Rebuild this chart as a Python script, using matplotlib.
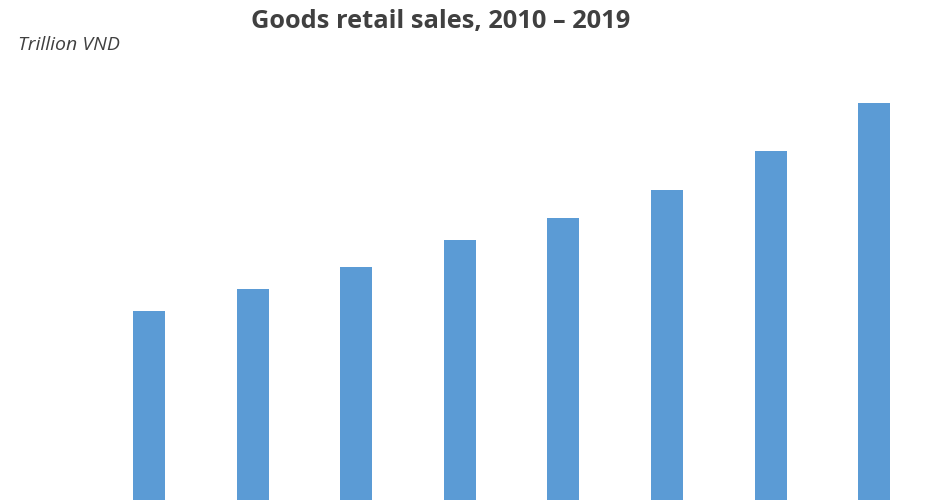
import matplotlib.pyplot as plt

# retail sales of goods, trillion VND
years = ["2012", "2013", "2014", "2015", "2016", "2017", "2018", "2019"]
sales = [1850, 2060, 2265, 2515, 2720, 2980, 3340, 3790]

plt.rcParams['font.family'] = ['Open Sans', 'DejaVu Sans']

fig = plt.figure(figsize=(9.32, 5), dpi=100)
ax = fig.add_axes([0, -0.02, 1, 0.946])

x = range(len(years))
ax.bar(x, sales, width=0.31, color="#5B9BD5")
ax.set_xlim(-1.438, 7.558)
ax.set_ylim(0, 4400)
ax.axis("off")

fig.text(0.473, 0.957, "Goods retail sales, 2010 \u2013 2019", ha="center", va="center",
         fontsize=18.3, fontweight="bold", color="#404040")
fig.text(0.019, 0.91, "Trillion VND", ha="left", va="center",
         fontsize=14, style="italic", color="#404040")

fig.savefig("out.png", dpi=100)
